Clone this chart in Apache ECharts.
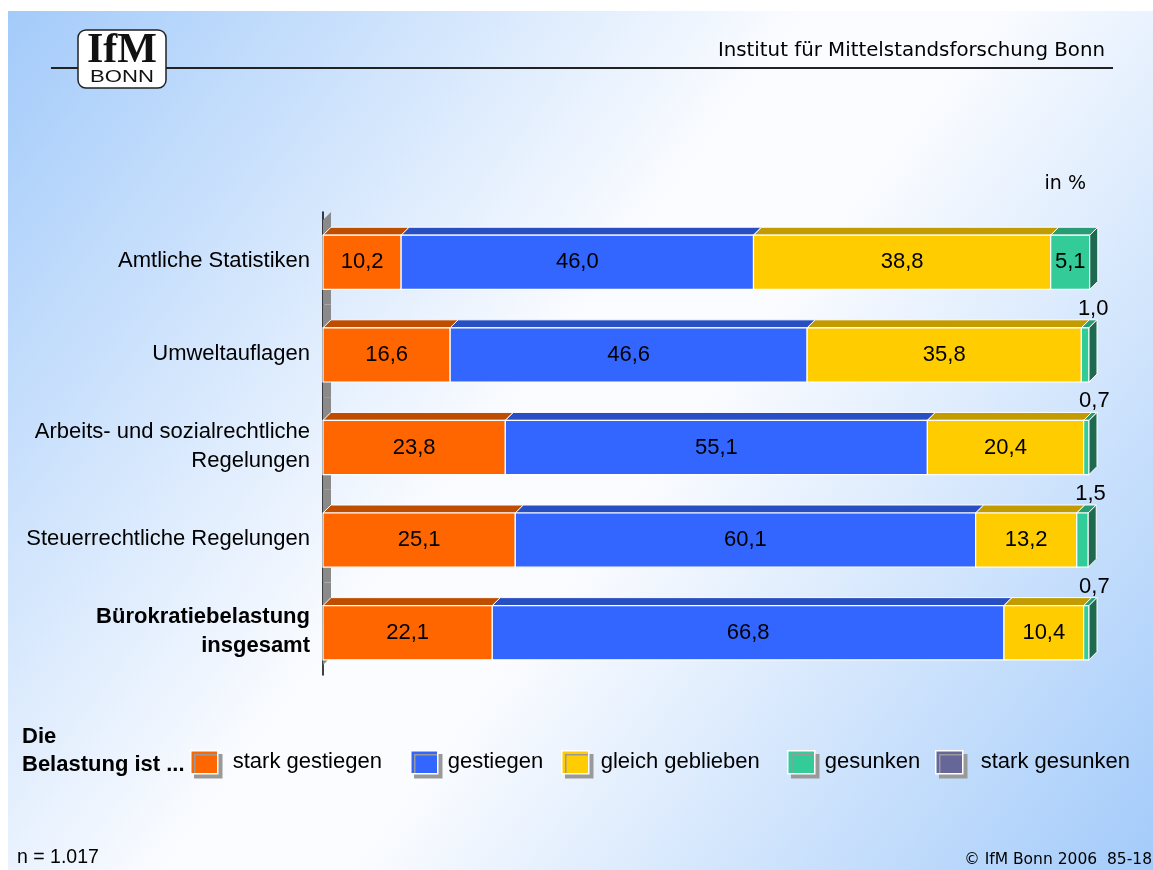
<!DOCTYPE html>
<html>
<head>
<meta charset="utf-8">
<script src="https://cdn.jsdelivr.net/npm/echarts@6/dist/echarts.min.js"></script>
<style>
  html, body { margin: 0; padding: 0; background: #fff; }
  #chart { width: 1153px; height: 870px; }
</style>
</head>
<body>
<div id="chart"></div>
<script>
// Kategorien (von oben nach unten)
const categories = [
  'Amtliche Statistiken',
  'Umweltauflagen',
  'Arbeits- und sozialrechtliche\nRegelungen',
  'Steuerrechtliche Regelungen',
  'Bürokratiebelastung\ninsgesamt'
];
// Werte in %
const starkGestiegen  = [10.2, 16.6, 23.8, 25.1, 22.1];
const gestiegen       = [46.0, 46.6, 55.1, 60.1, 66.8];
const gleichGeblieben = [38.8, 35.8, 20.4, 13.2, 10.4];
const gesunken        = [5.1, 1.0, 0.7, 1.5, 0.7];
const starkGesunken   = [0, 0, 0, 0, 0];

const seriesDefs = [
  { name: 'stark gestiegen',  values: starkGestiegen,  color: '#ff6600', top: '#bf4d00', side: '#a34200' },
  { name: 'gestiegen',        values: gestiegen,       color: '#3366ff', top: '#284fc2', side: '#1f3d99' },
  { name: 'gleich geblieben', values: gleichGeblieben, color: '#ffcc00', top: '#c29b00', side: '#9a7b00' },
  { name: 'gesunken',         values: gesunken,        color: '#33cc99', top: '#289c75', side: '#1e6a50' },
  { name: 'stark gesunken',   values: starkGesunken,   color: '#666699', top: '#4d4d75', side: '#3d3d5c' }
];

const FONT = '"Liberation Sans", Arial, sans-serif';
const TAHOMA = '"DejaVu Sans", Verdana, sans-serif';
const DEPTH = 8;

function fmt(v) {
  return v.toFixed(1).replace('.', ',');
}

// Stapel-Daten: [kategorie, start, ende, wert, letzter]
const stacked = seriesDefs.map(() => []);
categories.forEach(function(_, i) {
  let acc = 0;
  let lastIdx = -1;
  seriesDefs.forEach(function(s, k) { if (s.values[i] > 0) lastIdx = k; });
  seriesDefs.forEach(function(s, k) {
    const v = s.values[i];
    stacked[k].push([i, acc, acc + v, v, k === lastIdx ? 1 : 0]);
    acc += v;
  });
});

function barGeom(api, s, e, cat) {
  const p0 = api.coord([s, cat]);
  const p1 = api.coord([e, cat]);
  const band = api.size([0, 1])[1];
  const h = band * 0.585;
  const yTop = p0[1] - (h + DEPTH) / 2 + DEPTH;
  return { x0: p0[0], x1: p1[0], yTop: yTop, yBot: yTop + h, h: h };
}

function makeRender(def) {
  return function(params, api) {
    const cat = api.value(0), v = api.value(3);
    if (!(v > 0)) return;
    const g = barGeom(api, api.value(1), api.value(2), cat);
    const children = [
      {
        type: 'polygon',
        shape: { points: [[g.x0, g.yTop], [g.x0 + DEPTH, g.yTop - DEPTH], [g.x1 + DEPTH, g.yTop - DEPTH], [g.x1, g.yTop]] },
        style: { fill: def.top, stroke: '#fff', lineWidth: 1 }
      },
      {
        type: 'rect',
        shape: { x: g.x0, y: g.yTop, width: g.x1 - g.x0, height: g.h },
        style: { fill: def.color, stroke: '#fff', lineWidth: 1.2 }
      }
    ];
    if (api.value(4)) {
      children.push({
        type: 'polygon',
        shape: { points: [[g.x1, g.yTop], [g.x1 + DEPTH, g.yTop - DEPTH], [g.x1 + DEPTH, g.yBot - DEPTH], [g.x1, g.yBot]] },
        style: { fill: def.side, stroke: '#fff', lineWidth: 1 }
      });
    }
    const small = v < 3;
    children.push({
      type: 'text',
      style: {
        text: fmt(v),
        x: small ? (g.x0 + g.x1) / 2 + DEPTH : (g.x0 + g.x1) / 2,
        y: small ? g.yTop - DEPTH : (g.yTop + g.yBot) / 2,
        align: 'center',
        verticalAlign: small ? 'bottom' : 'middle',
        font: '22px ' + FONT,
        fill: '#000'
      }
    });
    return { type: 'group', children: children };
  };
}

// grauer Wandstreifen an der Achse
function renderWall(params, api) {
  const cat = api.value(0);
  const p = api.coord([0, cat]);
  const band = api.size([0, 1])[1];
  const yt = p[1] - band / 2, yb = p[1] + band / 2;
  const pts = cat === 0
    ? [[p[0], yt + DEPTH], [p[0] + DEPTH, yt], [p[0] + DEPTH, yb], [p[0], yb]]
    : cat === categories.length - 1
      ? [[p[0], yt], [p[0] + DEPTH, yt], [p[0] + DEPTH, yb - 18], [p[0], yb - 10]]
      : [[p[0], yt], [p[0] + DEPTH, yt], [p[0] + DEPTH, yb], [p[0], yb]];
  return { type: 'polygon', shape: { points: pts }, style: { fill: '#8a8a8a' } };
}

const legendLeft = [190, 410, 561, 787, 935];
const legendPad = [15, 10, 12, 10, 18];

const option = {
  backgroundColor: '#fff',
  animation: false,
  grid: { left: 323, right: 64, top: 212, bottom: 195 },
  xAxis: { type: 'value', min: 0, max: 100, show: false },
  yAxis: {
    type: 'category',
    data: categories,
    inverse: true,
    axisTick: { show: false },
    axisLine: { lineStyle: { color: '#000', width: 1.5 } },
    axisLabel: {
      margin: 13,
      fontFamily: FONT,
      fontSize: 22,
      lineHeight: 29,
      color: '#000',
      padding: [6, 0, 0, 0],
      formatter: function(v) {
        if (v.indexOf('Bürokratie') === 0) {
          return v.split('\n').map(function(l) { return '{b|' + l + '}'; }).join('\n');
        }
        return v;
      },
      rich: { b: { fontFamily: FONT, fontSize: 22, lineHeight: 29, fontWeight: 'bold', color: '#000' } }
    }
  },
  legend: seriesDefs.map(function(s, k) {
    return {
      data: [s.name],
      left: legendLeft[k],
      top: 750,
      padding: 0,
      icon: 'rect',
      itemWidth: 27,
      itemHeight: 23,
      selectedMode: false,
      itemStyle: { borderColor: '#fff', borderWidth: 1.5, shadowColor: '#999', shadowOffsetX: 4, shadowOffsetY: 4, shadowBlur: 0 },
      textStyle: { fontFamily: FONT, fontSize: 22, color: '#000', padding: [10, 0, 0, legendPad[k] - 5] }
    };
  }),
  series: [
    {
      type: 'custom',
      name: 'wall',
      renderItem: renderWall,
      encode: { x: 1, y: 0 },
      data: categories.map(function(_, i) { return [i, 0]; }),
      silent: true
    }
  ].concat(seriesDefs.map(function(s, k) {
    return {
      type: 'custom',
      name: s.name,
      itemStyle: { color: s.color },
      renderItem: makeRender(s),
      encode: { x: [1, 2], y: 0 },
      data: stacked[k]
    };
  })),
  graphic: [
    {
      type: 'rect', z: -10, silent: true,
      shape: { x: 8, y: 11, width: 1145, height: 859 },
      style: {
        fill: {
          type: 'linear', x: 0, y: 0, x2: 1, y2: 1,
          colorStops: [
            { offset: 0, color: '#a3cbfa' },
            { offset: 0.45, color: '#fbfcff' },
            { offset: 0.55, color: '#fbfcff' },
            { offset: 1, color: '#a3cbfa' }
          ]
        }
      }
    },
    // Kopfzeile
    { type: 'line', shape: { x1: 51, y1: 68, x2: 1113, y2: 68 }, style: { stroke: '#222', lineWidth: 2 } },
    {
      type: 'rect', shape: { x: 78, y: 30, width: 88, height: 58, r: 8 },
      style: { fill: '#fff', stroke: '#222', lineWidth: 1.5 }
    },
    {
      type: 'text', x: 122, y: 51,
      style: { text: 'IfM', x: 0, y: 0, align: 'center', verticalAlign: 'middle',
        font: 'bold 42px "Liberation Serif", "DejaVu Serif", serif', fill: '#111' }
    },
    {
      type: 'text', x: 122, y: 77, scaleX: 1.3,
      style: { text: 'BONN', x: 0, y: 0, align: 'center', verticalAlign: 'middle',
        font: '17px ' + FONT, fill: '#111' }
    },
    {
      type: 'text', style: { text: 'Institut für Mittelstandsforschung Bonn', x: 1105, y: 51,
        align: 'right', verticalAlign: 'middle', font: '19.8px ' + TAHOMA, fill: '#000' }
    },
    {
      type: 'text', style: { text: 'in %', x: 1086, y: 184, align: 'right', verticalAlign: 'middle',
        font: '19px ' + TAHOMA, fill: '#000' }
    },
    // Legendentitel
    {
      type: 'text', style: { text: 'Die\nBelastung ist ...', x: 22, y: 723, lineHeight: 28,
        font: 'bold 22px ' + FONT, fill: '#000' }
    },
    {
      type: 'text', style: { text: 'n = 1.017', x: 17, y: 858, verticalAlign: 'middle',
        font: '19.5px ' + FONT, fill: '#000' }
    },
    {
      type: 'text', style: { text: '© IfM Bonn 2006  85-18', x: 1152, y: 860, align: 'right',
        verticalAlign: 'middle', font: '15.5px ' + TAHOMA, fill: '#000' }
    }
  ]
};

const chart = echarts.init(document.getElementById('chart'), null, { renderer: 'canvas' });
chart.setOption(option);
</script>
</body>
</html>
